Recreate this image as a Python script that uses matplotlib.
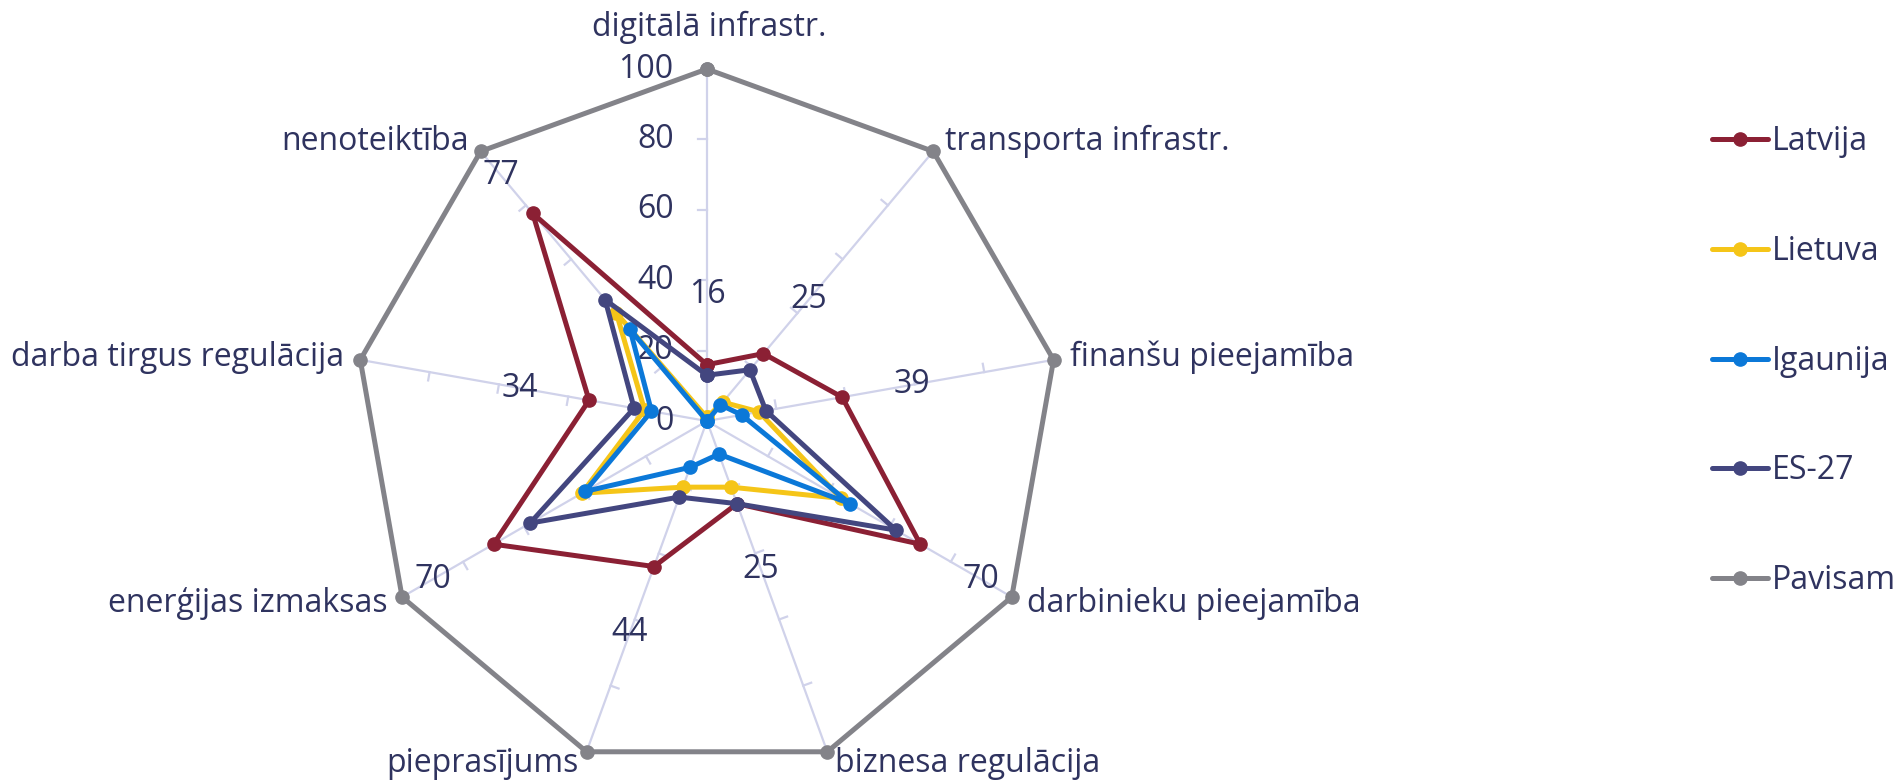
import numpy as np
import matplotlib
matplotlib.use("Agg")
import matplotlib.pyplot as plt

plt.rcParams['font.family'] = ['Open Sans', 'DejaVu Sans']

categories = ['digitālā infrastr.', 'transporta infrastr.', 'finanšu pieejamība',
              'darbinieku pieejamība', 'biznesa regulācija', 'pieprasījums',
              'enerģijas izmaksas', 'darba tirgus regulācija', 'nenoteiktība']

latvija = [16, 25, 39, 70, 25, 44, 70, 34, 77]
lietuva = [1, 7, 15, 44, 20, 20, 41, 18, 40]
igaunija = [0, 6, 10, 47, 10, 14, 40, 16, 34]
es27 = [13, 19, 17, 62, 25, 23, 58, 21, 45]
pavisam = [100, 100, 100, 100, 100, 100, 100, 100, 100]

series_names = ['Latvija', 'Lietuva', 'Igaunija', 'ES-27', 'Pavisam']
series_values = [latvija, lietuva, igaunija, es27, pavisam]
series_colors = ['#8b2034', '#f5c518', '#0b78d8', '#43467f', '#838389']

radial_ticks = [0, 20, 40, 60, 80, 100]

text_color = '#2f335f'
grid_color = '#d0d2ea'
fs = 23

fig = plt.figure(figsize=(18.96, 7.84), dpi=100)
ax = fig.add_axes([0.1872, 0.0140, 0.3713, 0.898], projection='polar')
ax.set_theta_zero_location('N')
ax.set_theta_direction(-1)
ax.set_ylim(0, 100)
ax.axis('off')

n = len(categories)
theta = np.deg2rad(np.arange(n) * 360.0 / n)

# spokes with small ticks every 20
tick_len = 2.4
for t in theta:
    ax.plot([t, t], [0, 100], color=grid_color, lw=1.6, zorder=1, clip_on=False)
    for r in radial_ticks[1:-1]:
        d = np.arctan2(tick_len, r)
        ax.plot([t, t - d], [r, np.hypot(r, tick_len)], color=grid_color, lw=1.6,
                zorder=1, clip_on=False)

# radial tick labels along the top spoke
for r in radial_ticks:
    ax.annotate(str(r), (0, r), xytext=(-24, 0), textcoords='offset points',
                ha='right', va='center', fontsize=fs, color=text_color, zorder=1.5)

# Latvija values written out along each spoke
for t, v in zip(theta, latvija):
    ax.text(t, min(v + 20, 91), str(v), ha='center', va='center',
            fontsize=fs, color=text_color, zorder=1.5)

# series
for name, vals, col in zip(series_names, series_values, series_colors):
    th = np.append(theta, theta[0])
    rv = np.append(vals, vals[0])
    ax.plot(th, rv, color=col, lw=3.6, marker='o', ms=9.5, label=name,
            zorder=3, clip_on=False, solid_joinstyle='round',
            solid_capstyle='round')

# category labels at spoke ends
for t, lab in zip(theta, categories):
    s, c = np.sin(t), np.cos(t)
    if abs(s) < 0.01:
        ax.annotate(lab, (t, 100), xytext=(2, 30), textcoords='offset points',
                    ha='center', va='center', fontsize=fs, color=text_color)
    else:
        ha = 'left' if s > 0 else 'right'
        ax.annotate(lab, (t, 100), xytext=(s * 10 + (2 if s > 0 else -2), c * 9),
                    textcoords='offset points', ha=ha, va='center',
                    fontsize=fs, color=text_color)

fig.legend(loc='upper left', bbox_to_anchor=(0.903, 0.840), frameon=False,
           fontsize=fs, labelcolor=text_color, handlelength=1.75,
           handletextpad=0.12, labelspacing=2.4, borderpad=0, borderaxespad=0)

fig.savefig('out.png', dpi=100)
